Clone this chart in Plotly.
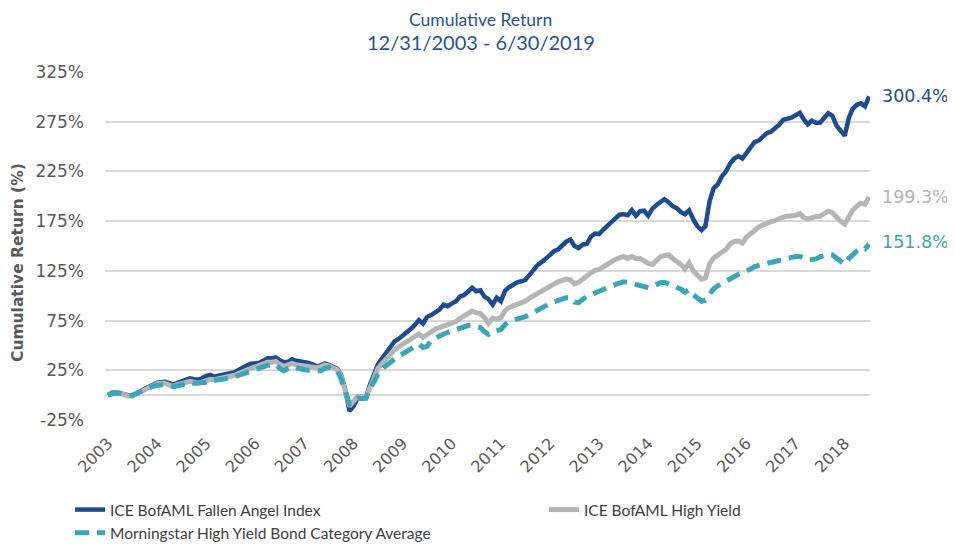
import pandas as pd
import plotly.graph_objects as go

# Month-end dates, 12/31/2003 - 6/30/2019
dates = pd.date_range("2003-12-31", "2019-06-30", freq="ME")

fallen_angel = [
    0, 2.5, 3, 2, 1.5, 0, -1, 1.5, 4.5, 6.5, 8.5, 11, 12.5, 13, 13.5, 12, 10.5, 12.5, 14, 16,
    17, 16, 15.5, 17, 19.5, 20.5, 18.5, 19.5, 20.5, 21, 21.5, 23, 25.5, 28, 30, 31.5, 32, 32.5, 34.5, 37,
    37, 38, 35, 33, 33.5, 36, 34.5, 34, 33.5, 32.5, 31, 29, 30, 32, 30.5, 28.5, 26.5, 20, 5, -16,
    -11, -2.5, -2.5, -3, 10, 20, 31, 37, 43, 49, 54, 56.5, 59.5, 63, 66.5, 70.5, 75.5, 72, 78.5, 80.5,
    83, 86, 91, 89.5, 92, 94.5, 99, 100.5, 104, 108, 104.5, 105.5, 99, 96.5, 91, 98, 94.5, 105, 108.5, 111.5,
    113.5, 114.5, 116, 121, 126, 131, 134, 137, 141, 145, 146.5, 150.5, 154.5, 156.5, 150, 148, 151.5, 152, 159.5, 162.5,
    162, 166.5, 170, 173.5, 178, 181.5, 182, 181, 186, 180.5, 185, 185.5, 180.5, 187.5, 191, 194, 197, 194, 190, 188,
    184, 182, 186, 177, 170, 166, 170, 195, 208, 212, 220, 225, 233, 238, 240.5, 238, 244, 250.5, 254.5, 256,
    260, 263.5, 265, 268, 272, 277, 278, 279, 281.5, 284, 277.5, 272.5, 276, 274, 274, 279, 283.5, 281, 271, 266,
    261, 279, 288, 292, 293.5, 290.5, 300.4,
]

high_yield = [
    0, 2, 2.5, 2, 1, -1, -0.5, 1.5, 4.5, 6, 8, 10, 11.5, 12, 12, 10, 9, 10.5, 12, 13.5,
    14, 13, 12, 13, 15, 16, 15.5, 16.5, 17.5, 18, 18.5, 20, 22, 24, 25.5, 27, 28.5, 30, 31.5, 33,
    33, 34, 31, 29, 30.5, 32, 30.5, 30, 29.5, 28.5, 28, 27.5, 28.5, 30.5, 29.5, 27.5, 25.5, 19, 4, -11,
    -6, -1, -1, -3, 7, 18, 27, 32, 37, 41.5, 45.5, 48.5, 51, 54, 56.5, 59, 61.5, 58, 61, 64.5,
    66.5, 68, 69.5, 71, 72.5, 74, 77, 79.5, 82.5, 84.5, 83, 82, 78, 72, 77.5, 76.5, 78, 85, 88, 89.5,
    91, 93, 94.5, 97.5, 100, 102.5, 105.5, 107.5, 110, 112.5, 114, 115.5, 117, 116, 112, 113.5, 117, 120, 123, 125.5,
    126.5, 129, 132, 134, 136.5, 138.5, 139.5, 137.5, 139.5, 137.5, 137.5, 135, 132.5, 131.5, 135.5, 139, 140.5, 141, 137.5, 135,
    131.5, 127, 133, 125, 120, 116.5, 118, 132, 138, 141, 143.5, 146.5, 152, 154.5, 155, 153, 159, 163, 166.5, 169,
    171, 173, 174.5, 175.5, 177.5, 179, 180, 180, 181, 182.5, 179, 177, 178.5, 179.5, 180, 183, 185, 183.5, 178.5, 175,
    172, 180, 186, 190, 193, 192, 199.3,
]

morningstar = [
    0, 2, 2.5, 2, 1, -0.5, 0, 1.5, 4, 5.5, 7, 9, 10, 10.5, 10.5, 9.5, 8.5, 9.5, 10.5, 12,
    12.5, 12, 12, 12, 13, 14.5, 15.5, 15.5, 16, 16.5, 17, 18.5, 20, 21.5, 23, 25, 26.5, 28, 29, 30,
    30.5, 31, 27, 24.5, 27, 29, 27.5, 26, 25.5, 25, 24.5, 24, 24.5, 27, 28, 26, 24.5, 16, 2, -9,
    -6, -3, -3.5, -3, 6, 15, 21, 26.5, 30, 34, 36.5, 39.5, 41.5, 44, 46, 48, 51.5, 48, 49, 55,
    57.5, 60, 61.5, 63, 64.5, 66, 67.5, 69, 70, 70, 69.5, 68, 64, 61, 64, 64.5, 66, 71, 74, 75.5,
    76.5, 77.5, 79, 81, 83, 85, 87.5, 90, 92.5, 94, 95, 96.5, 98, 98, 93.5, 93, 96.5, 99.5, 101, 102.5,
    104, 106, 108, 110, 111.5, 113, 114, 113.5, 112.5, 111.5, 110, 109, 108, 109.5, 111.5, 113, 113.5, 112, 110.5, 109,
    106.5, 103.5, 106, 101, 97, 94.5, 95.5, 102, 107, 110, 112.5, 115, 117.5, 120, 121.5, 122.5, 125, 127.5, 129, 130.5,
    131.5, 133, 134.5, 135, 136.5, 137.5, 138.5, 139, 139.5, 139.5, 137.5, 136.5, 136.5, 137, 139, 140.5, 141.5, 141, 138, 134,
    131.5, 137.5, 141.5, 145, 148, 147, 151.8,
]

series_names = [
    "ICE BofAML Fallen Angel Index",
    "ICE BofAML High Yield",
    "Morningstar High Yield Bond Category Average",
]
end_labels = ["300.4%", "199.3%", "151.8%"]
title_lines = ["Cumulative Return", "12/31/2003 - 6/30/2019"]
y_title = "Cumulative Return (%)"

year_ticks = [f"{y}-12-31" for y in range(2003, 2019)]
year_labels = [str(y) for y in range(2003, 2019)]
y_ticks = [-25, 25, 75, 125, 175, 225, 275, 325]

BLUE = "#1C4B92"
GRAY = "#B5B5B5"
TEAL = "#38A6B8"
TEXT = "#595959"
FONT = "Lato"
NUMFONT = "DejaVu Sans"

# the page body has an 8px margin, so the figure is drawn 8px right/down in the window
OFF = 8
W, H = 955 - OFF, 544 - OFF
PLOT_L, PLOT_R, PLOT_T, PLOT_B = 105, 870, 72, 420   # window pixels
ML, MR = PLOT_L - OFF, W - (PLOT_R - OFF)
MT, MB = PLOT_T - OFF, H - (PLOT_B - OFF)
PW, PH = W - ML - MR, H - MT - MB


def px(x):
    return (x - OFF - ML) / PW


def py(y):
    return (H - MB - (y - OFF)) / PH


fig = go.Figure()
fig.add_trace(go.Scatter(x=dates, y=fallen_angel, mode="lines", name=series_names[0],
                         line=dict(color=BLUE, width=4.5), legend="legend"))
fig.add_trace(go.Scatter(x=dates, y=high_yield, mode="lines", name=series_names[1],
                         line=dict(color=GRAY, width=5), legend="legend2"))
fig.add_trace(go.Scatter(x=dates, y=morningstar, mode="lines", name=series_names[2],
                         line=dict(color=TEAL, width=5, dash="14px,8px"), legend="legend"))

for vals, lab, col, dy in [(fallen_angel, end_labels[0], BLUE, 0),
                           (high_yield, end_labels[1], GRAY, 0),
                           (morningstar, end_labels[2], TEAL, 2)]:
    fig.add_annotation(x=dates[-1], y=vals[-1], text=lab, showarrow=False,
                       xanchor="left", yanchor="middle", xshift=11, yshift=dy,
                       font=dict(family=NUMFONT, size=17.5, color=col))

fig.add_annotation(x=px(18), y=py(263), xref="paper", yref="paper", text=f"<b>{y_title}</b>",
                   showarrow=False, textangle=-90, xanchor="center", yanchor="middle",
                   font=dict(family=NUMFONT, size=15.5, color=TEXT))

fig.add_annotation(x=px(480), y=py(8), xref="paper", yref="paper", text=title_lines[0],
                   showarrow=False, xanchor="center", yanchor="top", borderpad=0,
                   font=dict(family=FONT, size=17.5, color="#24539D"))
fig.add_annotation(x=px(481), y=py(42), xref="paper", yref="paper", text=title_lines[1],
                   showarrow=False, xanchor="center", yanchor="middle",
                   font=dict(family=FONT, size=20, color="#24539D"))

legend_font = dict(family=FONT, size=15.5, color="#404040")
fig.update_layout(
    width=W, height=H,
    margin=dict(l=ML, r=MR, t=MT, b=MB, autoexpand=False),
    paper_bgcolor="white", plot_bgcolor="white",
    font=dict(family=FONT, color=TEXT),
    showlegend=True,
    legend=dict(orientation="v", x=px(70), xanchor="left", y=py(493), yanchor="top",
                font=legend_font, bgcolor="rgba(0,0,0,0)", tracegroupgap=0),
    legend2=dict(orientation="v", x=px(544), xanchor="left", y=py(493), yanchor="top",
                 font=legend_font, bgcolor="rgba(0,0,0,0)"),
    xaxis=dict(range=["2003-12-09", "2019-07-07"], tickmode="array", tickvals=year_ticks,
               ticktext=year_labels, tickangle=-45, showgrid=False, zeroline=False,
               showline=False, ticks="", ticklabelstandoff=10,
               tickfont=dict(family=NUMFONT, size=16, color=TEXT)),
    yaxis=dict(range=[-25, 325], tickmode="array", tickvals=y_ticks,
               ticktext=[f"{v}%" for v in y_ticks], showgrid=True, gridcolor="#D9D9D9",
               gridwidth=2, zeroline=True, zerolinecolor="#D9D9D9", zerolinewidth=2,
               showline=False, ticks="", ticklabelstandoff=20,
               tickfont=dict(family=NUMFONT, size=17, color=TEXT)),
)

fig.write_html("out.html")
